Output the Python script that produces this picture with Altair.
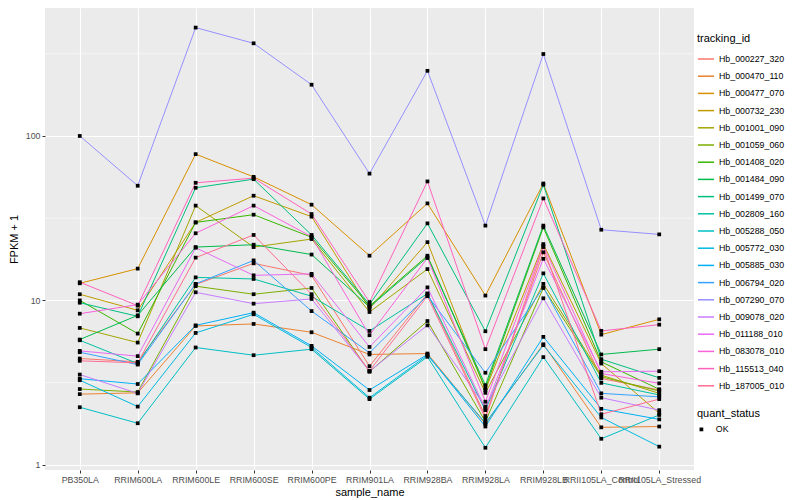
import altair as alt
import pandas as pd

samples = ["PB350LA", "RRIM600LA", "RRIM600LE", "RRIM600SE", "RRIM600PE", "RRIM901LA",
           "RRIM928BA", "RRIM928LA", "RRIM928LB", "RRII105LA_Control", "RRII105LA_Stressed"]

tracking_ids = ["Hb_000227_320", "Hb_000470_110", "Hb_000477_070", "Hb_000732_230",
                "Hb_001001_090", "Hb_001059_060", "Hb_001408_020", "Hb_001484_090",
                "Hb_001499_070", "Hb_002809_160", "Hb_005288_050", "Hb_005772_030",
                "Hb_005885_030", "Hb_006794_020", "Hb_007290_070", "Hb_009078_020",
                "Hb_011188_010", "Hb_083078_010", "Hb_115513_040", "Hb_187005_010"]

colors = ["#F8766D", "#EA8331", "#D89000", "#C09B00", "#A3A500", "#7CAE00", "#39B600",
          "#00BB4E", "#00BF7D", "#00C1A3", "#00BFC4", "#00BAE0", "#00B0F6", "#35A2FF",
          "#9590FF", "#C77CFF", "#E76BF3", "#FA62DB", "#FF62BC", "#FF6C91"]

# FPKM + 1 per sample (same order as samples)
hb_000227_320 = [4.43, 4.23, 12.5, 16.8, 14.2, 3.98, 11.0, 1.98, 19.6, 3.35, 2.85]
hb_000470_110 = [2.69, 2.74, 6.99, 7.19, 6.40, 4.69, 4.75, 1.77, 5.41, 1.69, 1.71]
hb_000477_070 = [12.7, 15.6, 77.5, 56.4, 38.2, 18.7, 38.9, 10.7, 51.4, 6.19, 7.67]
hb_000732_230 = [10.9, 8.7, 29.8, 43.3, 32.3, 8.9, 22.6, 2.85, 22.0, 4.13, 2.06]
hb_001001_090 = [6.80, 5.54, 37.7, 21.1, 23.6, 8.5, 15.5, 2.74, 12.6, 3.51, 2.72]
hb_001059_060 = [2.89, 2.77, 12.2, 10.9, 11.9, 3.68, 7.49, 1.83, 11.9, 3.43, 2.81]
hb_001408_020 = [10.0, 6.28, 29.8, 33.2, 24.2, 9.24, 18.7, 2.92, 27.8, 4.23, 2.88]
hb_001484_090 = [5.78, 8.11, 21.1, 21.8, 19.0, 9.11, 18.3, 3.05, 28.5, 4.69, 5.05]
hb_001499_070 = [9.68, 8.0, 48.4, 54.6, 25.0, 9.46, 29.4, 6.49, 50.5, 4.39, 3.38]
hb_002809_160 = [5.72, 4.13, 13.8, 13.5, 10.6, 6.52, 11.0, 2.15, 14.6, 3.15, 2.66]
hb_005288_050 = [2.24, 1.79, 5.17, 4.64, 5.05, 2.51, 4.54, 1.27, 4.52, 1.44, 2.01]
hb_005772_030 = [3.27, 2.26, 6.34, 8.23, 5.17, 2.56, 4.64, 1.80, 5.34, 1.94, 1.29]
hb_005885_030 = [3.34, 3.10, 7.05, 8.42, 5.29, 2.85, 4.69, 1.71, 6.0, 2.19, 1.89]
hb_006794_020 = [4.84, 4.07, 12.6, 17.5, 8.61, 4.80, 10.7, 3.63, 12.0, 2.72, 2.59]
hb_007290_070 = [100.0, 49.8, 456.0, 366.0, 205.0, 59.0, 249.0, 28.5, 315.0, 26.9, 25.2]
hb_009078_020 = [3.54, 2.72, 11.2, 9.55, 10.2, 3.71, 7.05, 2.26, 10.3, 2.56, 2.15]
hb_011188_010 = [4.93, 4.58, 20.9, 14.2, 14.5, 5.21, 12.0, 2.20, 17.9, 3.68, 3.71]
hb_083078_010 = [8.3, 9.42, 25.6, 37.7, 24.4, 6.14, 18.1, 2.42, 21.5, 3.59, 3.13]
hb_115513_040 = [12.9, 9.29, 51.9, 55.4, 33.5, 9.77, 52.9, 5.05, 41.7, 6.52, 7.12]
hb_187005_010 = [4.29, 4.17, 18.2, 25.0, 10.9, 3.73, 10.6, 1.92, 21.1, 2.03, 2.51]

series = [hb_000227_320, hb_000470_110, hb_000477_070, hb_000732_230, hb_001001_090,
          hb_001059_060, hb_001408_020, hb_001484_090, hb_001499_070, hb_002809_160,
          hb_005288_050, hb_005772_030, hb_005885_030, hb_006794_020, hb_007290_070,
          hb_009078_020, hb_011188_010, hb_083078_010, hb_115513_040, hb_187005_010]

y_major = [1, 10, 100]
y_minor = [3.1623, 31.623, 316.23]

rows = []
for tid, vals in zip(tracking_ids, series):
    for s, v in zip(samples, vals):
        rows.append({"tracking_id": tid, "sample_name": s, "fpkm1": v, "quant_status": "OK"})
df = pd.DataFrame(rows)
minor_df = pd.DataFrame({"m": y_minor})

FONT = "Liberation Sans"

x_enc = alt.X("sample_name:N", sort=samples, title="sample_name",
              scale=alt.Scale(type="point", padding=0.6),
              axis=alt.Axis(labelAngle=0, labelOverlap=False, grid=True, gridColor="white",
                            gridWidth=1.1, domain=False, tickColor="#333333", tickSize=3,
                            labelColor="#4D4D4D", labelFontSize=8.8, labelPadding=2,
                            titleFontSize=11, titleColor="black", titleFontWeight="normal",
                            titlePadding=3))
y_scale = alt.Scale(type="log", domain=[0.93, 600], nice=False)
y_enc = alt.Y("fpkm1:Q", scale=y_scale, title="FPKM + 1",
              axis=alt.Axis(values=y_major, format="d", grid=True, gridColor="white",
                            gridWidth=1.1, domain=False, tickColor="#333333", tickSize=3,
                            labelColor="#4D4D4D", labelFontSize=8.8, labelPadding=2,
                            titleFontSize=11, titleColor="black", titleFontWeight="normal",
                            titlePadding=6))

minor = alt.Chart(minor_df).mark_rule(color="white", strokeWidth=0.55).encode(
    y=alt.Y("m:Q", scale=y_scale)
)

lines = alt.Chart(df).mark_line(strokeWidth=1).encode(
    x=x_enc,
    y=y_enc,
    color=alt.Color("tracking_id:N", scale=alt.Scale(domain=tracking_ids, range=colors),
                    legend=alt.Legend(title="tracking_id", orient="none", legendX=652,
                                      legendY=25, symbolType="stroke", symbolSize=260,
                                      symbolStrokeWidth=1.5, labelFontSize=8.8,
                                      titleFontSize=11, titleFontWeight="normal",
                                      labelColor="black", titleColor="black",
                                      rowPadding=3.2, labelOffset=4, titlePadding=6)),
    detail="tracking_id:N",
)

points = alt.Chart(df).mark_point(filled=True, color="black", opacity=1, size=14).encode(
    x=alt.X("sample_name:N", sort=samples),
    y=alt.Y("fpkm1:Q", scale=y_scale),
    shape=alt.Shape("quant_status:N", scale=alt.Scale(domain=["OK"], range=["square"]),
                    legend=alt.Legend(title="quant_status", orient="none", legendX=652,
                                      legendY=400, symbolSize=14, symbolFillColor="black",
                                      symbolStrokeColor="black",
                                      labelFontSize=8.8, titleFontSize=11,
                                      titleFontWeight="normal", labelColor="black",
                                      titleColor="black", labelOffset=10, titlePadding=6)),
)

chart = alt.layer(minor, lines, points).resolve_scale(
    color="independent", shape="independent"
).properties(
    width=649, height=462, padding=0,
).configure(
    font=FONT
).configure_view(
    fill="#EBEBEB", stroke=None
)

chart.save("out.html", embed_options={"renderer": "svg", "actions": False})
